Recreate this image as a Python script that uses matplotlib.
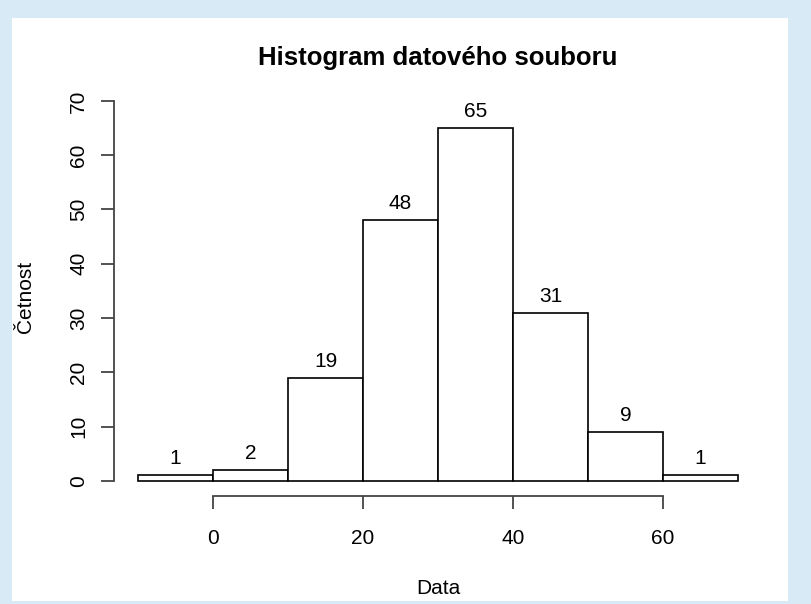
import matplotlib
matplotlib.use("Agg")
import matplotlib.pyplot as plt
from matplotlib.patches import Rectangle

# histogram data (bin edges and counts)
bin_edges = [-10, 0, 10, 20, 30, 40, 50, 60, 70]
counts = [1, 2, 19, 48, 65, 31, 9, 1]
x_ticks = [0, 20, 40, 60]
y_ticks = [0, 10, 20, 30, 40, 50, 60, 70]

title = "Histogram datového souboru"
x_label = "Data"
y_label = "Četnost"

plt.rcParams["font.family"] = ["Liberation Sans", "DejaVu Sans"]

W, H = 811, 604
fig = plt.figure(figsize=(W / 100, H / 100), dpi=100, facecolor="#d7eaf5")
# white device area inside the light blue frame
fig.patches.append(Rectangle((12 / W, (H - 601) / H), (788 - 12) / W, (601 - 18) / H,
                             transform=fig.transFigure, facecolor="white",
                             edgecolor="none", zorder=-10))

ax = fig.add_axes([114 / W, (H - 496) / H, 648 / W, (496 - 85.7) / H])
ax.set_facecolor("none")

lefts = bin_edges[:-1]
widths = [b - a for a, b in zip(bin_edges[:-1], bin_edges[1:])]
ax.bar(lefts, counts, width=widths, align="edge", color="white",
       edgecolor="black", linewidth=1.2)

for left, w, c in zip(lefts, widths, counts):
    ax.annotate(str(c), (left + w / 2, c), xytext=(0, 5), textcoords="offset points",
                ha="center", va="bottom", fontsize=15)

lo, hi = bin_edges[0], bin_edges[-1]
pad = 0.04 * (hi - lo)
ax.set_xlim(lo - pad, hi + pad)
ax.set_ylim(-0.04 * 70, 70 * 1.04)

for s in ["top", "right"]:
    ax.spines[s].set_visible(False)
ax.spines["left"].set_bounds(0, 70)
ax.spines["bottom"].set_bounds(0, 60)
for s in ["left", "bottom"]:
    ax.spines[s].set_color("#444444")
    ax.spines[s].set_linewidth(1.3)

ax.set_xticks(x_ticks)
ax.set_yticks(y_ticks)
ax.set_yticklabels([str(v) for v in y_ticks], rotation=90, va="center")
ax.tick_params(axis="both", length=9.5, width=1.3, color="#444444", labelsize=15)
ax.tick_params(axis="y", pad=9)
ax.tick_params(axis="x", pad=14)

fig.text(438 / W, 1 - 58 / H, title, fontsize=18.5, fontweight="bold",
         ha="center", va="center")
fig.text(438 / W, 1 - 588 / H, x_label, fontsize=15, ha="center", va="center")
fig.text(25 / W, 1 - 297 / H, y_label, fontsize=15, ha="center", va="center",
         rotation=90)

fig.savefig("out.png", dpi=100, facecolor=fig.get_facecolor())
